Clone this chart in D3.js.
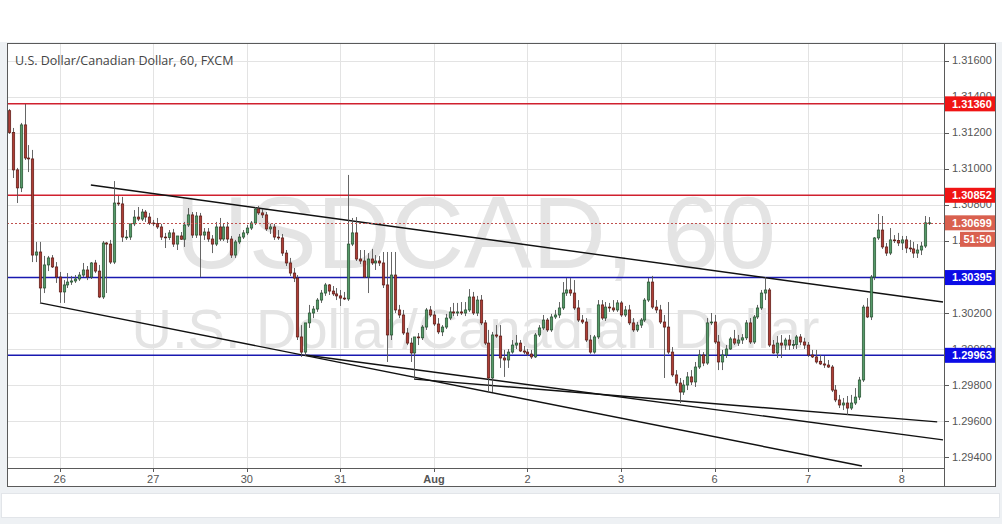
<!DOCTYPE html>
<html><head><meta charset="utf-8">
<script src="https://cdn.jsdelivr.net/npm/d3@7"></script>
<style>
html,body{margin:0;padding:0;background:#eef1f4;}
svg{display:block;}
</style></head><body>
<svg id="c" width="1002" height="524"></svg>
<script>
// ---- DATA (hourly USDCAD bars) ----
const open=[1.31322,1.31200,1.30993,1.30893,1.31243,1.31059,1.31054,1.30520,1.30537,1.30337,
1.30465,1.30504,1.30454,1.30398,1.30315,1.30354,1.30370,1.30376,1.30387,1.30409,
1.30437,1.30398,1.30476,1.30431,1.30287,1.30587,1.30581,1.30481,1.30809,1.30804,
1.30620,1.30620,1.30693,1.30731,1.30720,1.30759,1.30731,1.30698,1.30695,1.30676,
1.30620,1.30617,1.30643,1.30581,1.30626,1.30608,1.30687,1.30743,1.30631,1.30737,
1.30631,1.30648,1.30609,1.30581,1.30676,1.30609,1.30676,1.30609,1.30520,1.30593,
1.30620,1.30643,1.30670,1.30698,1.30776,1.30754,1.30743,1.30665,1.30676,1.30620,
1.30615,1.30531,1.30476,1.30420,1.30392,1.30065,1.29981,1.30143,1.30198,1.30220,
1.30270,1.30309,1.30354,1.30320,1.30304,1.30293,1.30281,1.30276,1.30581,1.30643,
1.30498,1.30487,1.30398,1.30498,1.30476,1.30487,1.30476,1.30354,1.30076,1.30409,
1.30215,1.30187,1.30087,1.30031,1.29976,1.30065,1.30060,1.30120,1.30215,1.30187,
1.30137,1.30093,1.30120,1.30170,1.30204,1.30198,1.30204,1.30198,1.30215,1.30287,
1.30198,1.30270,1.30143,1.30031,1.29837,1.30076,1.30070,1.29948,1.29937,1.29981,
1.30020,1.30031,1.29987,1.29981,1.29970,1.29954,1.30076,1.30115,1.30159,1.30104,
1.30176,1.30187,1.30226,1.30309,1.30326,1.30309,1.30226,1.30159,1.30148,1.30048,
1.29981,1.30065,1.30243,1.30170,1.30231,1.30226,1.30215,1.30254,1.30187,1.30215,
1.30143,1.30104,1.30131,1.30159,1.30270,1.30370,1.30231,1.30215,1.30148,1.30120,
1.29981,1.29854,1.29809,1.29759,1.29798,1.29843,1.29815,1.29898,1.29965,1.29920,
1.30143,1.30148,1.30037,1.29926,1.29965,1.29998,1.30054,1.30031,1.30048,1.30060,
1.30143,1.30037,1.30176,1.30226,1.30309,1.30326,1.30020,1.29976,1.30031,1.30020,
1.30048,1.30020,1.30023,1.30065,1.30037,1.30020,1.29965,1.29954,1.29930,1.29915,
1.29909,1.29898,1.29770,1.29715,1.29687,1.29698,1.29670,1.29698,1.29731,1.29826,
1.30231,1.30176,1.30398,1.30615,1.30659,1.30565,1.30531,1.30604,1.30600,1.30587,
1.30604,1.30559,1.30554,1.30531,1.30548,1.30570,1.30699];
const high=[1.31331,1.31226,1.31004,1.31254,1.31359,1.31131,1.31104,1.30593,1.30593,1.30515,
1.30515,1.30520,1.30481,1.30426,1.30381,1.30420,1.30404,1.30409,1.30426,1.30476,
1.30459,1.30481,1.30493,1.30465,1.30598,1.30593,1.30604,1.30931,1.30848,1.30843,
1.30659,1.30643,1.30770,1.30787,1.30776,1.30770,1.30754,1.30715,1.30726,1.30693,
1.30643,1.30659,1.30665,1.30620,1.30648,1.30704,1.30781,1.30759,1.30759,1.30754,
1.30670,1.30670,1.30631,1.30704,1.30726,1.30693,1.30704,1.30626,1.30604,1.30637,
1.30659,1.30687,1.30709,1.30787,1.30793,1.30776,1.30759,1.30693,1.30693,1.30659,
1.30637,1.30548,1.30504,1.30448,1.30409,1.30131,1.30104,1.30243,1.30237,1.30281,
1.30326,1.30365,1.30359,1.30348,1.30337,1.30326,1.30315,1.30965,1.30726,1.30731,
1.30548,1.30548,1.30531,1.30554,1.30520,1.30515,1.30537,1.30537,1.30537,1.30537,
1.30243,1.30215,1.30115,1.30060,1.30020,1.30087,1.30131,1.30226,1.30237,1.30209,
1.30170,1.30131,1.30193,1.30231,1.30254,1.30254,1.30259,1.30259,1.30331,1.30315,
1.30293,1.30298,1.30159,1.30104,1.30093,1.30131,1.30131,1.29993,1.29998,1.30048,
1.30076,1.30048,1.30015,1.29998,1.29993,1.30087,1.30131,1.30187,1.30170,1.30193,
1.30215,1.30259,1.30370,1.30392,1.30392,1.30381,1.30270,1.30187,1.30170,1.30076,
1.30076,1.30270,1.30270,1.30259,1.30254,1.30270,1.30270,1.30265,1.30237,1.30243,
1.30170,1.30148,1.30170,1.30281,1.30392,1.30404,1.30270,1.30243,1.30187,1.30259,
1.30009,1.29881,1.29837,1.29826,1.29870,1.29881,1.29926,1.29993,1.29981,1.30170,
1.30198,1.30187,1.30076,1.29993,1.30020,1.30065,1.30104,1.30076,1.30081,1.30159,
1.30170,1.30187,1.30243,1.30326,1.30398,1.30337,1.30048,1.30070,1.30076,1.30060,
1.30076,1.30048,1.30076,1.30081,1.30060,1.30037,1.29993,1.29993,1.29965,1.29959,
1.29937,1.29909,1.29798,1.29743,1.29726,1.29737,1.29743,1.29781,1.29843,1.30243,
1.30281,1.30409,1.30620,1.30748,1.30737,1.30587,1.30670,1.30631,1.30643,1.30626,
1.30626,1.30604,1.30593,1.30581,1.30593,1.30737,1.30731];
const low=[1.31193,1.30948,1.30809,1.30870,1.31048,1.30981,1.30481,1.30481,1.30259,1.30309,
1.30431,1.30448,1.30365,1.30254,1.30254,1.30337,1.30354,1.30365,1.30376,1.30398,
1.30381,1.30387,1.30420,1.30281,1.30276,1.30309,1.30470,1.30470,1.30793,1.30593,
1.30604,1.30604,1.30681,1.30709,1.30709,1.30704,1.30687,1.30681,1.30665,1.30604,
1.30559,1.30604,1.30565,1.30548,1.30604,1.30565,1.30676,1.30615,1.30615,1.30398,
1.30604,1.30593,1.30531,1.30570,1.30598,1.30598,1.30587,1.30504,1.30504,1.30581,
1.30609,1.30631,1.30659,1.30687,1.30743,1.30726,1.30654,1.30637,1.30604,1.30604,
1.30515,1.30459,1.30404,1.30370,1.30048,1.29954,1.29959,1.30115,1.30170,1.30204,
1.30254,1.30293,1.30298,1.30293,1.30270,1.30237,1.30270,1.30265,1.30570,1.30487,
1.30470,1.30392,1.30309,1.30465,1.30437,1.30459,1.30337,1.29926,1.30048,1.30198,
1.30170,1.30076,1.30020,1.29926,1.29826,1.30020,1.30048,1.30104,1.30176,1.30126,
1.30081,1.30070,1.30109,1.30159,1.30181,1.30181,1.30187,1.30181,1.30204,1.30187,
1.30181,1.30131,1.30020,1.29759,1.29759,1.30060,1.29893,1.29843,1.29893,1.29972,
1.29998,1.29981,1.29970,1.29959,1.29943,1.29948,1.30065,1.30104,1.30093,1.30093,
1.30165,1.30170,1.30215,1.30293,1.30293,1.30215,1.30148,1.30137,1.30037,1.29972,
1.29972,1.30054,1.30159,1.30154,1.30204,1.30204,1.30204,1.30176,1.30176,1.30131,
1.30093,1.30093,1.30115,1.30148,1.30259,1.30220,1.30198,1.30137,1.29837,1.29970,
1.29843,1.29793,1.29698,1.29743,1.29770,1.29798,1.29787,1.29887,1.29903,1.29910,
1.30131,1.30026,1.29881,1.29881,1.29948,1.29993,1.30020,1.30015,1.30026,1.30048,
1.30026,1.30026,1.30165,1.30215,1.30270,1.30009,1.29972,1.29948,1.29948,1.29993,
1.29993,1.29998,1.29998,1.30020,1.29998,1.29954,1.29948,1.29917,1.29909,1.29893,
1.29893,1.29759,1.29703,1.29670,1.29659,1.29631,1.29659,1.29687,1.29715,1.29815,
1.30170,1.30159,1.30381,1.30604,1.30554,1.30515,1.30520,1.30587,1.30570,1.30548,
1.30531,1.30537,1.30504,1.30504,1.30520,1.30559,1.30687];
const close=[1.31200,1.30993,1.30893,1.31243,1.31059,1.31054,1.30520,1.30537,1.30337,1.30465,
1.30504,1.30454,1.30398,1.30315,1.30354,1.30370,1.30376,1.30387,1.30409,1.30437,
1.30398,1.30476,1.30431,1.30287,1.30587,1.30581,1.30481,1.30809,1.30804,1.30620,
1.30620,1.30693,1.30731,1.30720,1.30759,1.30731,1.30698,1.30695,1.30676,1.30620,
1.30617,1.30643,1.30581,1.30626,1.30608,1.30687,1.30743,1.30631,1.30737,1.30631,
1.30648,1.30609,1.30581,1.30676,1.30609,1.30676,1.30609,1.30520,1.30593,1.30620,
1.30643,1.30670,1.30698,1.30776,1.30754,1.30743,1.30665,1.30676,1.30620,1.30615,
1.30531,1.30476,1.30420,1.30392,1.30065,1.29981,1.30143,1.30198,1.30220,1.30270,
1.30309,1.30354,1.30320,1.30304,1.30293,1.30281,1.30276,1.30581,1.30643,1.30498,
1.30487,1.30398,1.30498,1.30476,1.30487,1.30476,1.30354,1.30076,1.30409,1.30215,
1.30187,1.30087,1.30031,1.29976,1.30065,1.30060,1.30120,1.30215,1.30187,1.30137,
1.30093,1.30120,1.30170,1.30204,1.30198,1.30204,1.30198,1.30215,1.30287,1.30198,
1.30270,1.30143,1.30031,1.29837,1.30076,1.30070,1.29948,1.29937,1.29981,1.30020,
1.30031,1.29987,1.29981,1.29970,1.29954,1.30076,1.30115,1.30159,1.30104,1.30176,
1.30187,1.30226,1.30309,1.30326,1.30309,1.30226,1.30159,1.30148,1.30048,1.29981,
1.30065,1.30243,1.30170,1.30231,1.30226,1.30215,1.30254,1.30187,1.30215,1.30143,
1.30104,1.30131,1.30159,1.30270,1.30370,1.30231,1.30215,1.30148,1.30120,1.29981,
1.29854,1.29809,1.29759,1.29798,1.29843,1.29815,1.29898,1.29965,1.29920,1.30143,
1.30148,1.30037,1.29926,1.29965,1.29998,1.30054,1.30031,1.30048,1.30060,1.30143,
1.30037,1.30176,1.30226,1.30309,1.30326,1.30020,1.29976,1.30031,1.30020,1.30048,
1.30020,1.30023,1.30065,1.30037,1.30020,1.29965,1.29954,1.29926,1.29915,1.29909,
1.29898,1.29770,1.29715,1.29687,1.29698,1.29670,1.29698,1.29731,1.29826,1.30231,
1.30176,1.30398,1.30615,1.30659,1.30565,1.30531,1.30604,1.30600,1.30587,1.30604,
1.30559,1.30554,1.30531,1.30548,1.30570,1.30699,1.30699];

const dayLabels=["26","27","30","31","Aug","2","3","6","7","8"];
const dayStartBar=[13,37,61,85,109,133,157,181,205,229];
const priceTicks=[1.294,1.296,1.298,1.300,1.302,1.304,1.306,1.308,1.310,1.312,1.314,1.316];
const levelPrices=[1.31360,1.30852,1.30395,1.29963];
const levelKinds=["red","red","blue","blue"];
const lastPrice=1.30699;
const countdown="51:50";
// trend lines: [barFrom, priceFrom, barTo, priceTo]
const trendLines=[[21.0,1.30909,239.6,1.30259],[7.95,1.30254,218.8,1.29348],
                  [75.9,1.29965,239.6,1.29493],[103.9,1.29831,238.1,1.29593]];
const titleText="U.S. Dollar/Canadian Dollar, 60, FXCM";
const wm1="USDCAD, 60", wm2="U.S. Dollar/Canadian Dollar";

// ---- LAYOUT ----
const L=7,R=944,T=43,B=468,OR=996,OB=487;
const svg=d3.select("#c");
const x=d3.scaleLinear().domain([0,236]).range([9,929]);
const y=d3.scaleLinear().domain([1.29337,1.31698]).range([B,T]);
const FONT="Arial, 'Liberation Sans', sans-serif";

svg.append("rect").attr("x",0).attr("y",0).attr("width",1002).attr("height",42).attr("fill","#ffffff");
svg.append("rect").attr("x",1.5).attr("y",493.5).attr("width",998).attr("height",24).attr("fill","#ffffff").attr("stroke","#e2e5e9");
svg.append("rect").attr("x",L+0.5).attr("y",T+0.5).attr("width",OR-L-1).attr("height",OB-T-1)
  .attr("fill","#ffffff").attr("stroke","#5a5a5a");

svg.append("defs").append("clipPath").attr("id","pc").append("rect")
  .attr("x",L+1).attr("y",T+1).attr("width",R-L-1).attr("height",B-T-1);
const plot=svg.append("g").attr("clip-path","url(#pc)");

// grid
plot.append("g").selectAll("line").data(dayStartBar).join("line")
  .attr("x1",d=>Math.round(x(d))+0.5).attr("x2",d=>Math.round(x(d))+0.5).attr("y1",T).attr("y2",B)
  .attr("stroke","#e3e3e3");
plot.append("g").selectAll("line").data(priceTicks).join("line")
  .attr("x1",L).attr("x2",R).attr("y1",d=>Math.round(y(d))+0.5).attr("y2",d=>Math.round(y(d))+0.5)
  .attr("stroke","#e3e3e3");

// watermark
const cx=(L+R)/2;
plot.append("text").attr("x",cx).attr("y",268).attr("text-anchor","middle")
  .attr("font-family",FONT).attr("font-size",102).attr("fill","#e4e4e4").text(wm1);
plot.append("text").attr("x",cx).attr("y",348).attr("text-anchor","middle")
  .attr("font-family",FONT).attr("font-size",56).attr("fill","#e4e4e4").text(wm2);

// horizontal levels
const lvColor={red:"#d0202e",blue:"#1818b0"};
const lvG=plot.append("g");
levelPrices.forEach((p,i)=>{
  const yy=y(p);
  lvG.append("line").attr("x1",L).attr("x2",R).attr("y1",yy).attr("y2",yy)
    .style("stroke",lvColor[levelKinds[i]]).style("stroke-width","1.5px");
});

// trend lines
plot.append("g").selectAll("line").data(trendLines).join("line")
  .attr("x1",d=>x(d[0])).attr("y1",d=>y(d[1])).attr("x2",d=>x(d[2])).attr("y2",d=>y(d[3]))
  .attr("stroke","#111").attr("stroke-width",1.4);

// candles
const bars=d3.range(close.length);
const bw=2.4;
const cg=plot.append("g");
cg.selectAll("line").data(bars).join("line")
  .attr("x1",i=>Math.round(x(i))+0.5).attr("x2",i=>Math.round(x(i))+0.5)
  .attr("y1",i=>y(Math.max(high[i],open[i],close[i]))).attr("y2",i=>y(Math.min(low[i],open[i],close[i])))
  .attr("stroke","#555").attr("stroke-width",0.9);
cg.selectAll("rect").data(bars).join("rect")
  .attr("x",i=>Math.round(x(i))+0.5-bw/2).attr("width",bw)
  .attr("y",i=>y(Math.max(open[i],close[i])))
  .attr("height",i=>Math.max(0.8,Math.abs(y(open[i])-y(close[i]))))
  .attr("fill",i=>close[i]>=open[i]?"#559a69":"#ad3d35")
  .attr("stroke",i=>close[i]>=open[i]?"#25502f":"#5a1a14").attr("stroke-width",0.7);

// last price dotted line
plot.append("line").attr("x1",L).attr("x2",R).attr("y1",Math.round(y(lastPrice))+0.5).attr("y2",Math.round(y(lastPrice))+0.5)
  .attr("stroke","#c0504d").attr("stroke-dasharray","2,2").attr("stroke-width",1);

// axes lines
svg.append("line").attr("x1",R+0.5).attr("x2",R+0.5).attr("y1",T).attr("y2",OB).attr("stroke","#5a5a5a");
svg.append("line").attr("x1",L).attr("x2",R).attr("y1",B+0.5).attr("y2",B+0.5).attr("stroke","#5a5a5a");

// y axis ticks and labels (1.30400 sits fully under the 1.30395 box, as in the reference)
const shownTicks=priceTicks.filter(t=>t!==1.304);
const ya=svg.append("g");
ya.selectAll("line").data(priceTicks).join("line")
  .attr("x1",R).attr("x2",R+5).attr("y1",d=>Math.round(y(d))+0.5).attr("y2",d=>Math.round(y(d))+0.5).attr("stroke","#5a5a5a");
ya.selectAll("text").data(shownTicks).join("text")
  .attr("x",952).attr("y",d=>y(d)).attr("dy","0.35em").attr("font-family",FONT).attr("font-size",11)
  .attr("fill","#555").text(d=>d3.format(".5f")(d));

// x axis labels
const xa=svg.append("g");
xa.selectAll("line").data(dayStartBar).join("line")
  .attr("x1",d=>Math.round(x(d))+0.5).attr("x2",d=>Math.round(x(d))+0.5).attr("y1",B).attr("y2",B+4).attr("stroke","#5a5a5a");
xa.selectAll("text").data(dayStartBar).join("text")
  .attr("x",d=>x(d)).attr("y",483).attr("text-anchor","middle").attr("font-family",FONT).attr("font-size",11)
  .attr("font-weight",(d,i)=>dayLabels[i]==="Aug"?"bold":"normal")
  .attr("fill","#555").text((d,i)=>dayLabels[i]);

// price labels on axis
const boxColor={red:"#f01414",blue:"#0c0ce6"};
const lb=svg.append("g");
levelPrices.forEach((p,i)=>{
  const yy=y(p);
  lb.append("rect").attr("x",945).attr("y",yy-7.5).attr("width",50).attr("height",15).attr("fill",boxColor[levelKinds[i]]);
  lb.append("text").attr("x",952).attr("y",yy).attr("dy","0.35em").attr("font-family",FONT).attr("font-size",11)
    .attr("font-weight","bold").attr("fill","#fff").text(d3.format(".5f")(p));
});
{
  const yy=y(lastPrice);
  lb.append("rect").attr("x",945).attr("y",yy-7.5).attr("width",50).attr("height",15).attr("fill","#d9604f");
  lb.append("text").attr("x",952).attr("y",yy).attr("dy","0.35em").attr("font-family",FONT).attr("font-size",11)
    .attr("font-weight","bold").attr("fill","#fff").text(d3.format(".5f")(lastPrice));
  lb.append("rect").attr("x",960).attr("y",yy+9).attr("width",35).attr("height",15).attr("fill","#d9604f");
  lb.append("text").attr("x",977.5).attr("y",yy+16.5).attr("dy","0.35em").attr("text-anchor","middle").attr("font-family",FONT)
    .attr("font-size",11).attr("font-weight","bold").attr("fill","#fff").text(countdown);
}

// title
svg.append("text").attr("x",15).attr("y",65).attr("font-family","'Open Sans', sans-serif").attr("font-size",12.5)
  .attr("fill","#444").text(titleText);
</script>
</body></html>
